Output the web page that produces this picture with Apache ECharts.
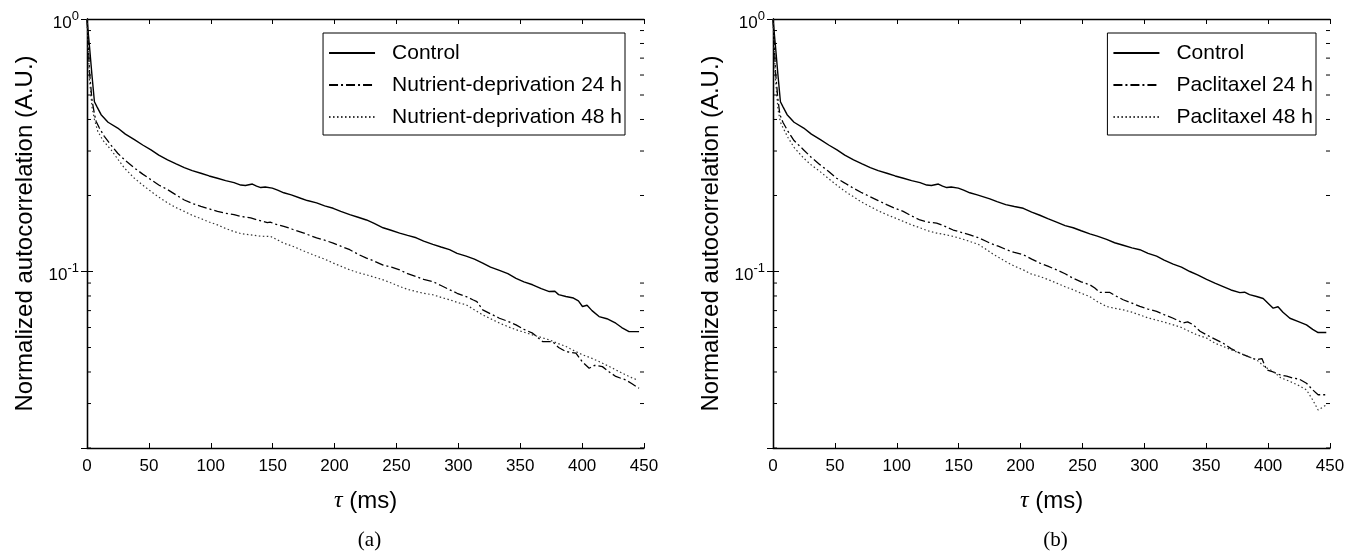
<!DOCTYPE html>
<html>
<head>
<meta charset="utf-8">
<script src="https://cdn.jsdelivr.net/npm/echarts@6/dist/echarts.min.js"></script>
<style>
html,body{margin:0;padding:0;background:#fff;}
#chart{width:1354px;height:552px;}
</style>
</head>
<body>
<div id="chart"></div>
<script>
// ---------- tick labels / axis settings ----------
const xTicks = [0, 50, 100, 150, 200, 250, 300, 350, 400, 450];
const yMin = 0.02, yMax = 1;
const minorTicks = [0.02,0.03,0.04,0.05,0.06,0.07,0.08,0.09,0.2,0.3,0.4,0.5,0.6,0.7,0.8,0.9];
const panelLabels = ['(a)', '(b)'];
const legendA = ['Control', 'Nutrient-deprivation 24 h', 'Nutrient-deprivation 48 h'];
const legendB = ['Control', 'Paclitaxel 24 h', 'Paclitaxel 48 h'];

// ---------- panel (a) ----------
const tauA_ctrl = [0,2,4,6,8,11.4,17,24.8,31,38.3,45,51.7,58,65.1,72,78.6,85,92,98.7,105.4,112,118.8,124.2,128,133.6,137,140.4,144,149.7,154,159,165,172.6,178,185.5,192,198.9,205,212.3,219,225.8,232,239.2,245,252.6,259,266,272,279.4,286,292.9,299,306.3,313,319.7,326,333.2,340,346.6,353,360,367,373.5,378,381,386.9,393,397,400.3,404,408,413.7,420,427.2,432,437.9,446];
const valA_ctrl = [1.0,0.78,0.60,0.47,0.45,0.418,0.39,0.37,0.35,0.333,0.317,0.303,0.289,0.277,0.267,0.258,0.251,0.245,0.239,0.234,0.229,0.225,0.220,0.219,0.222,0.218,0.215,0.216,0.214,0.210,0.205,0.201,0.195,0.191,0.187,0.182,0.178,0.173,0.168,0.164,0.160,0.155,0.149,0.146,0.142,0.139,0.136,0.132,0.128,0.125,0.122,0.118,0.115,0.112,0.108,0.104,0.101,0.098,0.094,0.091,0.0886,0.0855,0.0833,0.0835,0.081,0.0796,0.0785,0.0765,0.0727,0.0735,0.070,0.0663,0.0650,0.0624,0.060,0.0578,0.0578];

const tauA_24 = [0,1,2,4,6,7.4,10,14,19,24.8,31,38.3,45,51.7,58,65.1,72,78.6,85,92,98.7,105.4,112,118.8,125,132.3,138,145.7,148,152,159,166,175.3,180,185.5,192,198.9,205,212.3,219,225.8,232,239.2,246,252.6,259,266,272,279.4,286,292.9,299,306.3,311.7,315,319.7,326,333.2,340,346.6,353,360,368,376.1,381,386.9,395,400,405.7,410,416.4,422,427.2,435.2,440,444.6,446];
const valA_24 = [1.0,0.80,0.62,0.48,0.42,0.393,0.37,0.343,0.318,0.294,0.275,0.257,0.243,0.231,0.220,0.211,0.201,0.192,0.186,0.181,0.177,0.173,0.170,0.168,0.165,0.163,0.160,0.156,0.157,0.154,0.151,0.147,0.142,0.139,0.136,0.133,0.1296,0.126,0.122,0.117,0.113,0.110,0.106,0.104,0.1015,0.098,0.0955,0.093,0.0912,0.088,0.0847,0.082,0.0796,0.0773,0.0760,0.0705,0.068,0.0653,0.0635,0.0615,0.059,0.057,0.0528,0.0528,0.050,0.0482,0.0475,0.044,0.0414,0.0425,0.042,0.040,0.0384,0.0372,0.036,0.0348,0.0345];

const tauA_48 = [0,1,2,4,6,8.7,13,19.5,25,30.2,38.3,45,51.7,58,65.1,72,78.6,85,92,98.7,105.4,112,118.8,125,132.3,140,148.4,153,159,166,172.6,178,185.5,192,198.9,205,212.3,219,225.8,232,239.2,246,252.6,259,266,272,279.4,286,292.9,299,306.3,312,319.7,326,333.2,340,346.6,353,360,367,373.5,380,386.9,393,400.3,407,413.7,420,427.2,435,440,444.6];
const valA_48 = [1.0,0.75,0.58,0.45,0.40,0.359,0.33,0.303,0.278,0.257,0.234,0.220,0.2075,0.197,0.187,0.179,0.173,0.167,0.162,0.157,0.153,0.148,0.144,0.141,0.1397,0.138,0.1377,0.134,0.1295,0.126,0.122,0.119,0.115,0.112,0.108,0.105,0.1015,0.099,0.097,0.095,0.0927,0.090,0.0872,0.085,0.0833,0.082,0.0809,0.079,0.0773,0.0755,0.0738,0.071,0.0673,0.065,0.0625,0.0605,0.0588,0.0575,0.0561,0.0548,0.0536,0.052,0.0505,0.0487,0.0468,0.0455,0.044,0.0425,0.0408,0.039,0.038,0.0372];

// ---------- panel (b) ----------
const tauB_ctrl = [0,2,4,6,8,11.4,17,24.8,31,38.3,45,51.7,58,65.1,72,78.6,85,92,98.7,105.4,112,118.8,124.2,128,133.6,137,140.4,144,149.7,154,159,165,175.2,181,188,195,202.2,209,215.6,222,229.1,236,242.5,249,256,262,269.5,276,282.9,290,296.4,303,309.9,316,323.3,330,336.8,343,350.3,357,363.7,370,377.2,381,385,390.7,396,404.1,408,412,417.6,424,431,436,440.4,447];
const valB_ctrl = [1.0,0.78,0.60,0.47,0.45,0.418,0.39,0.37,0.35,0.333,0.317,0.303,0.289,0.277,0.267,0.258,0.251,0.245,0.239,0.234,0.229,0.225,0.220,0.219,0.222,0.218,0.215,0.216,0.214,0.210,0.205,0.201,0.194,0.189,0.184,0.181,0.178,0.172,0.167,0.162,0.157,0.152,0.149,0.145,0.141,0.138,0.134,0.130,0.127,0.124,0.122,0.118,0.115,0.111,0.107,0.104,0.100,0.097,0.093,0.090,0.0872,0.0845,0.0825,0.0828,0.081,0.0796,0.0782,0.0716,0.0725,0.069,0.0653,0.0635,0.0615,0.059,0.0573,0.0573];

const tauB_24 = [0,1,2,4,5.6,8,12,17,24.8,31,37.9,45,51.4,58,64.8,71,78.3,85,91.8,98.5,105.2,112,118.7,125,132.2,139,145.6,152,159.1,166,172.6,175.2,182,188.7,195,202.2,209,215.6,222,229.1,236,242.5,249,256,260,264.1,272.2,277,282.9,290,296.4,303,309.9,316,323.3,331.4,335,339.5,345,350.3,357,363.7,370,377.2,384,390.7,395,398.8,404,409.5,415,420.3,425,431,436,440.4,447];
const valB_24 = [1.0,0.80,0.62,0.48,0.418,0.39,0.36,0.33,0.303,0.283,0.265,0.249,0.234,0.224,0.214,0.206,0.198,0.191,0.184,0.178,0.173,0.166,0.160,0.157,0.1555,0.151,0.146,0.143,0.1397,0.136,0.1315,0.1296,0.126,0.122,0.119,0.1165,0.112,0.108,0.105,0.1015,0.098,0.094,0.091,0.0886,0.086,0.0826,0.0826,0.080,0.0773,0.075,0.0727,0.071,0.0695,0.0675,0.0653,0.0625,0.0632,0.0615,0.058,0.0561,0.054,0.052,0.0495,0.0475,0.046,0.0447,0.0452,0.0408,0.040,0.039,0.0385,0.0378,0.0375,0.0361,0.034,0.0325,0.0325];

const tauB_48 = [0,1,2,4,6,8.2,12,17,24.8,31,37.9,45,51.4,58,64.8,71,78.3,85,91.8,98.5,105.2,112,118.7,125,132.2,139,145.6,152,159.1,166,172.6,178,183.3,188.7,195,202.2,208,215.6,222,229.1,236,242.5,249,256,262,269.5,276,282.9,290,296.4,303,309.9,316,323.3,330,336.8,343,350.3,357,363.7,370,377.2,384,390.7,397,404.1,410,417.6,424,431,436,440.4,444,447];
const valB_48 = [1.0,0.75,0.58,0.44,0.39,0.37,0.34,0.31,0.281,0.264,0.249,0.233,0.220,0.208,0.198,0.189,0.181,0.174,0.168,0.163,0.158,0.153,0.149,0.145,0.142,0.140,0.1377,0.135,0.1315,0.128,0.122,0.117,0.113,0.109,0.105,0.1015,0.098,0.0955,0.093,0.090,0.087,0.0847,0.082,0.0796,0.076,0.0727,0.0715,0.0705,0.069,0.0673,0.0655,0.0642,0.063,0.0615,0.060,0.0578,0.056,0.0545,0.052,0.0505,0.049,0.0475,0.046,0.0447,0.042,0.0402,0.038,0.0367,0.0355,0.034,0.031,0.0283,0.029,0.0296];

// ---------- build ----------
const zip = (t, v) => t.map((x, i) => [x, v[i]]);
const SANS = 'Liberation Sans, Arial, sans-serif';
const SERIF = 'Liberation Serif, Times New Roman, serif';

const gridLeft = [87, 773];
const gridW = 557;

function yLabelFmt(v) {
  const lg = Math.log10(v);
  const r = Math.round(lg);
  if (Math.abs(lg - r) > 1e-6) return '';
  return '{b|10}{s|' + r + '}';
}

const xAxes = [], yAxes = [];
for (let g = 0; g < 2; g++) {
  xAxes.push({
    type: 'value', gridIndex: g, min: 0, max: 450, interval: 50, position: 'bottom',
    axisLine: { lineStyle: { color: '#000', width: 1.3 } },
    axisTick: { inside: true, length: 5, lineStyle: { color: '#000' } },
    axisLabel: { color: '#000', fontFamily: SANS, fontSize: 17, margin: 10 },
    splitLine: { show: false },
    name: '{t|τ} (ms)', nameLocation: 'middle', nameGap: 41,
    nameTextStyle: { color: '#000', fontFamily: SANS, fontSize: 24,
      rich: { t: { fontFamily: SERIF, fontStyle: 'italic', fontSize: 24, color: '#000' } } }
  });
  xAxes.push({
    type: 'value', gridIndex: g, min: 0, max: 450, interval: 50, position: 'top',
    axisLine: { lineStyle: { color: '#000', width: 1.3 } },
    axisTick: { inside: true, length: 5, lineStyle: { color: '#000' } },
    axisLabel: { show: false }, splitLine: { show: false }
  });
  yAxes.push({
    type: 'log', logBase: 10, gridIndex: g, min: yMin, max: yMax, position: 'left',
    axisLine: { lineStyle: { color: '#000', width: 1.3 } },
    axisTick: { inside: true, length: 6, lineStyle: { color: '#000' } },
    axisLabel: { color: '#000', margin: 8, formatter: yLabelFmt,
      rich: {
        b: { fontFamily: SANS, fontSize: 17, color: '#000', padding: [8, 0, 0, 0] },
        s: { fontFamily: SANS, fontSize: 13, color: '#000', padding: [0, 0, 6, 0] }
      } },
    splitLine: { show: false },
    name: 'Normalized autocorrelation (A.U.)', nameLocation: 'middle', nameGap: 50,
    nameTextStyle: { color: '#000', fontFamily: SANS, fontSize: 24 }
  });
  yAxes.push({
    type: 'log', logBase: 10, gridIndex: g, min: yMin, max: yMax, position: 'right',
    axisLine: { lineStyle: { color: '#000', width: 1.3 } },
    axisTick: { inside: true, length: 6, lineStyle: { color: '#000' } },
    axisLabel: { show: false }, splitLine: { show: false }
  });
}

const styles = {
  solid: { color: '#000', width: 1.4, type: 'solid' },
  dashdot: { color: '#000', width: 1.3, type: [9, 3, 2, 3] },
  dotted: { color: '#333', width: 1.2, type: [1.5, 2.5] }
};

function lineSeries(name, data, g, st) {
  return {
    type: 'line', name: name, data: data, xAxisIndex: g * 2, yAxisIndex: g * 2,
    symbol: 'none', showSymbol: false, smooth: false, lineStyle: st, itemStyle: { color: '#000' },
    animation: false, z: 3
  };
}

function tickSeries(g) {
  return {
    type: 'custom', xAxisIndex: g * 2, yAxisIndex: g * 2, silent: true, animation: false, z: 5,
    data: minorTicks.map(v => [0, v]),
    renderItem: function (params, api) {
      const v = api.value(1);
      const pl = api.coord([0, v]);
      const pr = api.coord([450, v]);
      return { type: 'group', children: [
        { type: 'line', shape: { x1: pl[0], y1: pl[1], x2: pl[0] + 4, y2: pl[1] }, style: { stroke: '#000', lineWidth: 1 } },
        { type: 'line', shape: { x1: pr[0], y1: pr[1], x2: pr[0] - 4, y2: pr[1] }, style: { stroke: '#000', lineWidth: 1 } }
      ] };
    }
  };
}

const series = [
  lineSeries(legendA[0], zip(tauA_ctrl, valA_ctrl), 0, styles.solid),
  lineSeries(legendA[1], zip(tauA_24, valA_24), 0, styles.dashdot),
  lineSeries(legendA[2], zip(tauA_48, valA_48), 0, styles.dotted),
  lineSeries(legendB[0], zip(tauB_ctrl, valB_ctrl), 1, styles.solid),
  lineSeries(legendB[1], zip(tauB_24, valB_24), 1, styles.dashdot),
  lineSeries(legendB[2], zip(tauB_48, valB_48), 1, styles.dotted),
  tickSeries(0), tickSeries(1)
];

function legendCfg(names, right) {
  return {
    data: names, orient: 'vertical', right: right, top: 33, selectedMode: false,
    backgroundColor: '#fff', borderColor: '#000', borderWidth: 1, borderRadius: 0,
    padding: [9, 3, 7, 5], itemWidth: 46, itemHeight: 22, itemGap: 10,
    itemStyle: { opacity: 0, borderWidth: 0 },
    textStyle: { color: '#000', fontFamily: SANS, fontSize: 21, lineHeight: 22, padding: [0, 0, 0, 12] }
  };
}

const option = {
  backgroundColor: '#fff',
  animation: false,
  grid: [
    { left: gridLeft[0], top: 19, width: gridW, height: 429, containLabel: false },
    { left: gridLeft[1], top: 19, width: gridW, height: 429, containLabel: false }
  ],
  xAxis: xAxes,
  yAxis: yAxes,
  legend: [legendCfg(legendA, 729), legendCfg(legendB, 38)],
  title: panelLabels.map((t, i) => ({
    text: t, left: gridLeft[i] + gridW / 2 + 4, top: 530, textAlign: 'center', padding: 0,
    textStyle: { fontFamily: SERIF, fontSize: 21, fontWeight: 'normal', color: '#000' }
  })),
  series: series
};

const chart = echarts.init(document.getElementById('chart'), null, { renderer: 'canvas' });
chart.setOption(option);
</script>
</body>
</html>
